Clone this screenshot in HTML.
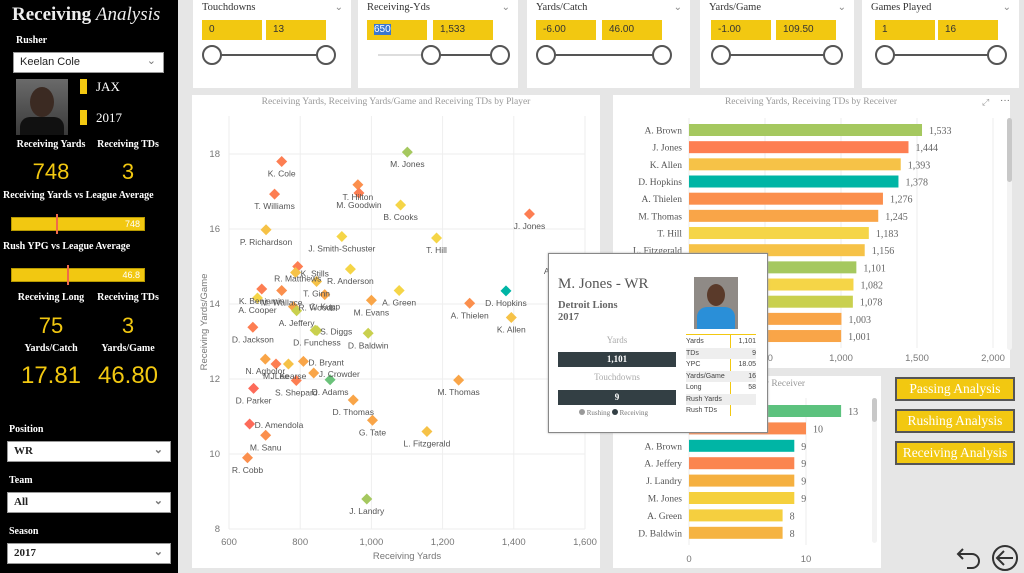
<!DOCTYPE html>
<html><head><meta charset="utf-8"><style>
*{box-sizing:border-box;margin:0;padding:0}
body{width:1024px;height:573px;overflow:hidden;background:#e6e6e6;position:relative;font-family:"Liberation Sans",sans-serif}
.abs{position:absolute}
.serif{font-family:"Liberation Serif",serif}
#left{left:0;top:0;width:178px;height:573px;background:#000}
.wl{color:#fff;font-family:"Liberation Serif",serif;font-weight:bold;font-size:10px;position:absolute;text-align:center}
.big{color:#f2c811;position:absolute;text-align:center;font-family:"Liberation Sans",sans-serif;font-weight:normal}
.dd{position:absolute;background:#fff;border:1px solid #999;font-size:11px;color:#222;padding:3px 6px}
.dd span.ch{position:absolute;right:7px;top:1px;color:#777;font-size:11px}
.card{position:absolute;background:#fff}
.stitle{position:absolute;left:9px;top:2px;font-family:"Liberation Serif",serif;font-size:10.5px;color:#333}
.ibox{position:absolute;top:20px;width:60px;height:20px;background:#f2c811;font-size:10px;color:#333;padding:4px 7px}
.knob{position:absolute;top:45px;width:20px;height:20px;border:2px solid #555;border-radius:50%;background:#fff}
.btn{position:absolute;left:895px;width:120px;height:24px;background:#f2c811;border:2px solid #555;color:#fff;font-family:"Liberation Serif",serif;font-size:13.5px;text-align:center;line-height:20px}
</style></head><body>
<div id="left" class="abs">
<div class="abs serif" style="left:12px;top:4px;color:#eee;font-size:19px;font-weight:bold">Receiving <i style="font-weight:normal">Analysis</i></div>
<div class="wl" style="left:16px;top:35px">Rusher</div>
<div class="dd" style="left:13px;top:52px;width:151px;height:21px">Keelan Cole<span class="ch">&#8964;</span></div>
<div class="abs" style="left:16px;top:79px;width:52px;height:56px;background:linear-gradient(#6a6a6a,#3a3a3a)"><div style="position:absolute;left:14px;top:8px;width:24px;height:30px;border-radius:50%;background:#3b2a22"></div><div style="position:absolute;left:4px;top:38px;width:44px;height:18px;border-radius:10px 10px 0 0;background:#111"></div></div>
<div class="abs" style="left:80px;top:79px;width:7px;height:15px;background:#f2c811"></div>
<div class="abs serif" style="left:96px;top:79px;color:#fff;font-size:13px">JAX</div>
<div class="abs" style="left:80px;top:110px;width:7px;height:15px;background:#f2c811"></div>
<div class="abs serif" style="left:96px;top:110px;color:#fff;font-size:13px">2017</div>
<div class="wl" style="left:5px;width:92px;top:139px">Receiving Yards</div>
<div class="wl" style="left:88px;width:80px;top:139px">Receiving TDs</div>
<div class="big" style="left:5px;width:92px;top:159px;font-size:22px">748</div>
<div class="big" style="left:88px;width:80px;top:159px;font-size:22px">3</div>
<div class="wl" style="left:3px;top:190px;text-align:left">Receiving Yards vs League Average</div>
<div class="abs" style="left:11px;top:217px;width:134px;height:14px;background:#f2c811;border:1px solid #b89a00"><div style="position:absolute;left:44px;top:-4px;width:2px;height:20px;background:#f06a4a"></div><div style="position:absolute;right:4px;top:1px;color:#fff;font-size:9px">748</div></div>
<div class="wl" style="left:3px;top:241px;text-align:left">Rush YPG vs League Average</div>
<div class="abs" style="left:11px;top:268px;width:134px;height:14px;background:#f2c811;border:1px solid #b89a00"><div style="position:absolute;left:55px;top:-4px;width:2px;height:20px;background:#f06a4a"></div><div style="position:absolute;right:4px;top:1px;color:#fff;font-size:9px">46.8</div></div>
<div class="wl" style="left:5px;width:92px;top:292px">Receiving Long</div>
<div class="wl" style="left:88px;width:80px;top:292px">Receiving TDs</div>
<div class="big" style="left:5px;width:92px;top:313px;font-size:22px">75</div>
<div class="big" style="left:88px;width:80px;top:313px;font-size:22px">3</div>
<div class="wl" style="left:5px;width:92px;top:343px">Yards/Catch</div>
<div class="wl" style="left:88px;width:80px;top:343px">Yards/Game</div>
<div class="big" style="left:5px;width:92px;top:362px;font-size:24px">17.81</div>
<div class="big" style="left:88px;width:80px;top:362px;font-size:24px">46.80</div>
<div class="wl" style="left:9px;top:424px;text-align:left">Position</div>
<div class="dd" style="left:7px;top:441px;width:164px;height:21px;font-weight:bold;font-family:'Liberation Serif',serif">WR<span class="ch">&#8964;</span></div>
<div class="wl" style="left:9px;top:475px;text-align:left">Team</div>
<div class="dd" style="left:7px;top:492px;width:164px;height:21px;font-weight:bold;font-family:'Liberation Serif',serif">All<span class="ch">&#8964;</span></div>
<div class="wl" style="left:9px;top:526px;text-align:left">Season</div>
<div class="dd" style="left:7px;top:543px;width:164px;height:21px;font-weight:bold;font-family:'Liberation Serif',serif">2017<span class="ch">&#8964;</span></div>
</div>

<!-- slicers -->
<div class="card" style="left:193px;top:0;width:158px;height:88px"><div class="stitle">Touchdowns</div><div class="abs" style="right:8px;top:2px;color:#888;font-size:10px">&#8964;</div><div class="ibox" style="left:9px">0</div><div class="ibox" style="left:73px">13</div><div class="abs" style="left:19px;top:54px;width:114px;height:2px;background:#555"></div><div class="knob" style="left:9px"></div><div class="knob" style="left:123px"></div></div>
<div class="card" style="left:358px;top:0;width:160px;height:88px"><div class="stitle">Receiving-Yds</div><div class="abs" style="right:8px;top:2px;color:#888;font-size:10px">&#8964;</div><div class="ibox" style="left:9px"><span style="background:#3a77d0;color:#fff">650</span></div><div class="ibox" style="left:75px">1,533</div><div class="abs" style="left:20px;top:54px;width:52px;height:2px;background:#ddd"></div><div class="abs" style="left:73px;top:54px;width:70px;height:2px;background:#555"></div><div class="knob" style="left:63px"></div><div class="knob" style="left:132px"></div></div>
<div class="card" style="left:527px;top:0;width:163px;height:88px"><div class="stitle">Yards/Catch</div><div class="abs" style="right:8px;top:2px;color:#888;font-size:10px">&#8964;</div><div class="ibox" style="left:9px">-6.00</div><div class="ibox" style="left:75px">46.00</div><div class="abs" style="left:19px;top:54px;width:116px;height:2px;background:#555"></div><div class="knob" style="left:9px"></div><div class="knob" style="left:125px"></div></div>
<div class="card" style="left:700px;top:0;width:154px;height:88px"><div class="stitle">Yards/Game</div><div class="abs" style="right:8px;top:2px;color:#888;font-size:10px">&#8964;</div><div class="ibox" style="left:11px">-1.00</div><div class="ibox" style="left:76px">109.50</div><div class="abs" style="left:21px;top:54px;width:112px;height:2px;background:#555"></div><div class="knob" style="left:11px"></div><div class="knob" style="left:123px"></div></div>
<div class="card" style="left:862px;top:0;width:157px;height:88px"><div class="stitle">Games Played</div><div class="abs" style="right:8px;top:2px;color:#888;font-size:10px">&#8964;</div><div class="ibox" style="left:13px">1</div><div class="ibox" style="left:76px">16</div><div class="abs" style="left:23px;top:54px;width:112px;height:2px;background:#555"></div><div class="knob" style="left:13px"></div><div class="knob" style="left:125px"></div></div>

<div class="card" style="left:192px;top:95px;width:408px;height:473px"></div>
<div class="card" style="left:613px;top:95px;width:397px;height:273px"></div>
<div class="card" style="left:613px;top:376px;width:268px;height:192px"></div>

<svg id="chart" class="abs" style="left:0;top:0" width="1024" height="573"></svg>

<div class="btn" style="top:377px">Passing Analysis</div>
<div class="btn" style="top:409px">Rushing Analysis</div>
<div class="btn" style="top:441px">Receiving Analysis</div>
<svg class="abs" style="left:955px;top:543px" width="30" height="28"><path d="M8 6 L3 11 L8 16 M3 11 H17 A7 7 0 0 1 17 25 H12" fill="none" stroke="#333" stroke-width="2"/></svg>
<svg class="abs" style="left:990px;top:543px" width="30" height="30"><circle cx="15" cy="15" r="12" fill="none" stroke="#333" stroke-width="2"/><path d="M14 8 L7 15 L14 22 M7 15 H23" fill="none" stroke="#333" stroke-width="2"/></svg>

<!-- tooltip -->
<div class="abs" style="left:548px;top:253px;width:220px;height:180px;background:#fff;border:1px solid #888;box-shadow:0 0 2px #aaa">
<div class="abs serif" style="left:9px;top:22px;font-size:15px;color:#555">M. Jones - WR</div>
<div class="abs serif" style="left:9px;top:46px;font-size:10.5px;color:#666;font-weight:bold;line-height:12px">Detroit Lions<br>2017</div>
<div class="abs serif" style="left:9px;top:81px;width:118px;text-align:center;font-size:9px;color:#aaa">Yards</div>
<div class="abs serif" style="left:9px;top:98px;width:118px;height:15px;background:#333f44;color:#fff;font-size:9px;font-weight:bold;text-align:center;line-height:15px">1,101</div>
<div class="abs serif" style="left:9px;top:118px;width:118px;text-align:center;font-size:9px;color:#aaa">Touchdowns</div>
<div class="abs serif" style="left:9px;top:136px;width:118px;height:15px;background:#333f44;color:#fff;font-size:9px;font-weight:bold;text-align:center;line-height:15px">9</div>
<div class="abs serif" style="left:30px;top:155px;font-size:7px;color:#777"><span style="display:inline-block;width:6px;height:6px;border-radius:50%;background:#999"></span> Rushing <span style="display:inline-block;width:6px;height:6px;border-radius:50%;background:#333f44"></span> Receiving</div>
<div class="abs" style="left:145px;top:23px;width:44px;height:52px;background:#8f8a86"><div style="position:absolute;left:13px;top:7px;width:18px;height:22px;border-radius:50%;background:#5a3a2a"></div><div style="position:absolute;left:3px;top:30px;width:38px;height:22px;border-radius:10px 10px 0 0;background:#2a8fd8"></div></div>
<div class="abs" style="left:137px;top:80px;width:70px;height:1px;background:#f2c811"></div>
<div class="abs" style="left:181px;top:80px;width:1px;height:82px;background:#f2c811"></div>
<table class="abs" style="left:137px;top:82px;width:70px;font-size:7px;color:#444;border-collapse:collapse">
<tr><td style="height:11.5px">Yards</td><td style="text-align:right">1,101</td></tr>
<tr style="background:#eee"><td style="height:11.5px">TDs</td><td style="text-align:right">9</td></tr>
<tr><td style="height:11.5px">YPC</td><td style="text-align:right">18.05</td></tr>
<tr style="background:#eee"><td style="height:11.5px">Yards/Game</td><td style="text-align:right">16</td></tr>
<tr><td style="height:11.5px">Long</td><td style="text-align:right">58</td></tr>
<tr style="background:#eee"><td style="height:11.5px">Rush Yards</td><td></td></tr>
<tr><td style="height:11.5px">Rush TDs</td><td></td></tr>
</table>
</div>

<script>
// scatter data
const spNames=["M. Jones","K. Cole","T. Hilton","M. Goodwin","T. Williams","B. Cooks","J. Jones","P. Richardson","J. Smith-Schuster","T. Hill","R. Matthews","K. Stills","R. Anderson","T. Ginn","K. Benjamin","M. Wallace","C. Kupp","A. Green","M. Evans","A. Thielen","D. Hopkins","A. Cooper","R. Woods","A. Jeffery","K. Allen","S. Diggs","D. Jackson","D. Funchess","D. Baldwin","N. Agholor","M. Lee","J. Kearse","D. Bryant","J. Crowder","D. Adams","S. Shepard","D. Parker","M. Thomas","D. Thomas","G. Tate","L. Fitzgerald","D. Amendola","M. Sanu","R. Cobb","J. Landry","A. Brown"];
const spYards=[1101,748,962,965,728,1082,1444,704,917,1183,793,787,941,846,692,748,869,1078,1000,1276,1378,680,781,790,1393,842,667,847,991,702,732,767,809,838,884,789,669,1245,949,1003,1156,658,703,652,987,1533];
const spYpg=[18.05,17.8,17.18,16.96,16.93,16.64,16.4,15.98,15.8,15.76,15.0,14.84,14.93,14.6,14.4,14.36,14.25,14.36,14.1,14.02,14.35,14.16,13.93,13.82,13.64,13.3,13.38,13.29,13.22,12.53,12.4,12.4,12.47,12.16,11.98,11.96,11.75,11.97,11.44,10.9,10.6,10.8,10.5,9.9,8.8,15.2];
const spTds=[9,3,4,3,3,7,3,6,7,7,3,6,7,6,3,4,5,7,5,4,13,7,5,8,6,8,3,8,8,5,3,6,5,5,10,3,2,5,5,5,6,2,4,4,9,9];
const xTicks=[600,800,1000,1200,1400,1600];
const yTicks=[8,10,12,14,16,18];
// bar chart 1
const byNames=["A. Brown","J. Jones","K. Allen","D. Hopkins","A. Thielen","M. Thomas","T. Hill","L. Fitzgerald","M. Jones","B. Cooks","A. Green","G. Tate","M. Evans"];
const byValues=[1533,1444,1393,1378,1276,1245,1183,1156,1101,1082,1078,1003,1001];
const byTds=[9,3,6,13,4,5,7,6,9,7,8,5,5];
const byTicks=[0,500,1000,1500,2000];
// bar chart 2
const btNames=["D. Adams","T. Hill","A. Brown","A. Jeffery","J. Landry","M. Jones","A. Green","D. Baldwin"];
const btValues=[13,10,9,9,9,9,8,8];
const btTicks=[0,10];

const btColors=["#5cc27e","#fb8a4f","#00b5a5","#fb8550","#f5b040","#f5d03d","#f5cf3f","#f5b342"];
const svg=document.getElementById('chart');
const NS="http://www.w3.org/2000/svg";
function mk(tag,attrs,parent){const e=document.createElementNS(NS,tag);for(const k in attrs)e.setAttribute(k,attrs[k]);(parent||svg).appendChild(e);return e;}
function txt(x,y,s,attrs){const t=mk('text',Object.assign({x:x,y:y},attrs));t.textContent=s;return t;}
function tdColor(t){if(t>=13)return "#00b5a5";const c=["#fd6b5a","#fd6b5a","#fd6b5a","#fd7e52","#fb8f4d","#f9a548","#f6c247","#f5d547","#c9d04e","#a5c85f","#6bc27a","#6bc27a","#6bc27a"];return c[t];}

// scatter
const sx=v=>229+(v-600)*0.356, sy=v=>154+(18-v)*37.5;
const gS=mk('g',{});


txt(396,104,"Receiving Yards, Receiving Yards/Game and Receiving TDs by Player",{"font-size":9.5,fill:"#999","text-anchor":"middle","font-family":"Liberation Serif, serif"},gS);
xTicks.forEach(v=>{mk('line',{x1:sx(v),x2:sx(v),y1:116,y2:529,stroke:"#eee"},gS);const t=txt(sx(v),545,v.toLocaleString('en-US'),{"font-size":9.5,fill:"#777","text-anchor":"middle"},gS);});
yTicks.forEach(v=>{mk('line',{x1:229,x2:585,y1:sy(v),y2:sy(v),stroke:"#eee"},gS);const t=txt(220,sy(v)+3,String(v),{"font-size":9.5,fill:"#777","text-anchor":"end"},gS);});
const xt=txt(407,559,"Receiving Yards",{"font-size":9.5,fill:"#777","text-anchor":"middle"},gS);


const yt=txt(0,0,"Receiving Yards/Game",{"font-size":9.5,fill:"#777","text-anchor":"middle",transform:"translate(207,322) rotate(-90)"},gS);


const rightLabels={"K. Stills":1,"D. Amendola":1,"D. Bryant":1,"J. Crowder":1,"R. Woods":1,"S. Diggs":1};
spNames.forEach((n,i)=>{const x=sx(spYards[i]),y=sy(spYpg[i]);
 const p=mk('path',{d:`M${x} ${y-5.5} L${x+5.5} ${y} L${x} ${y+5.5} L${x-5.5} ${y} Z`,fill:tdColor(spTds[i])},gS);
 
 
 const r=rightLabels[n];
 const l=txt(r?x+5:x,r?y+4:y+15,n,{"font-size":8.5,fill:"#555","text-anchor":r?"start":"middle"},gS);
 
 
});

// bar chart 1
const bx=v=>689+v*0.152;
const gB=mk('g',{});


txt(811,104,"Receiving Yards, Receiving TDs by Receiver",{"font-size":9.5,fill:"#999","text-anchor":"middle","font-family":"Liberation Serif, serif"},gB);
txt(982,105,"⤢",{"font-size":9,fill:"#999"},gB);txt(1000,103,"···",{"font-size":10,fill:"#666"},gB);
byTicks.forEach(v=>{mk('line',{x1:bx(v),x2:bx(v),y1:118,y2:348,stroke:"#eee"},gB);const t=txt(bx(v),361,v.toLocaleString('en-US'),{"font-size":9.5,fill:"#777","text-anchor":"middle"},gB);});
byNames.forEach((n,i)=>{const cy=130+i*17.17;
 const r=mk('rect',{x:bx(0),y:cy-6,width:bx(byValues[i])-bx(0),height:12,fill:tdColor(byTds[i])},gB);
 
 
 const a=txt(682,cy+3.5,n,{"font-size":9.5,fill:"#555","text-anchor":"end","font-family":"Liberation Serif, serif"},gB);
 
 
 const b=txt(bx(byValues[i])+7,cy+4,byValues[i].toLocaleString('en-US'),{"font-size":10,fill:"#666","font-family":"Liberation Serif, serif"},gB);
 
 
});
mk('rect',{x:1007,y:118,width:5,height:232,rx:2.5,fill:"#f3f3f3"},gB);
mk('rect',{x:1007,y:118,width:5,height:64,rx:2.5,fill:"#c8c8c8"},gB);

// bar chart 2
const tx=v=>689+v*11.7;
const gT=mk('g',{});


txt(700,386,"Receiving TDs by Receiver",{"font-size":9.5,fill:"#999","font-family":"Liberation Serif, serif"},gT);
btTicks.forEach(v=>{mk('line',{x1:tx(v),x2:tx(v),y1:398,y2:545,stroke:"#eee"},gT);const t=txt(tx(v),562,String(v),{"font-size":9.5,fill:"#777","text-anchor":"middle"},gT);});
btNames.forEach((n,i)=>{const cy=411+i*17.4;
 const r=mk('rect',{x:tx(0),y:cy-6,width:tx(btValues[i])-tx(0),height:12,fill:btColors[i]},gT);
 
 
 const a=txt(682,cy+3.5,n,{"font-size":9.5,fill:"#555","text-anchor":"end","font-family":"Liberation Serif, serif"},gT);
 
 
 const b=txt(tx(btValues[i])+7,cy+4,String(btValues[i]),{"font-size":10,fill:"#666","font-family":"Liberation Serif, serif"},gT);
 
 
});
mk('rect',{x:872,y:398,width:5,height:145,rx:2.5,fill:"#f3f3f3"},gT);
mk('rect',{x:872,y:398,width:5,height:24,rx:2.5,fill:"#c8c8c8"},gT);
</script>
</body></html>
